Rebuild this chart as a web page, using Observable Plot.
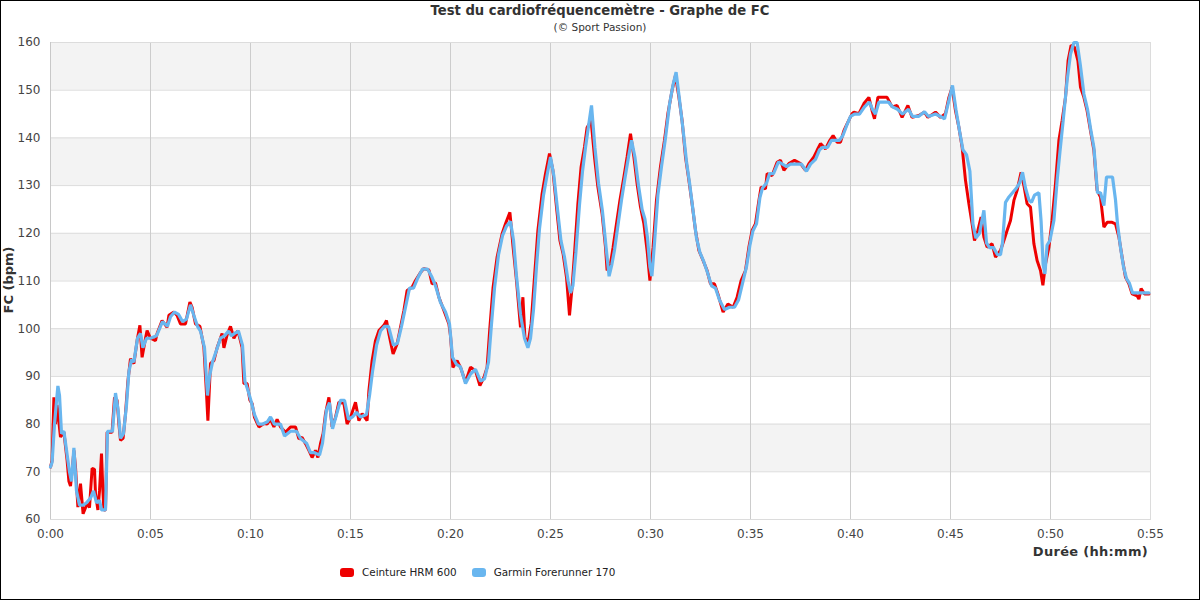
<!DOCTYPE html>
<html>
<head>
<meta charset="utf-8">
<script src="https://cdn.jsdelivr.net/npm/d3@7"></script>
<script src="https://cdn.jsdelivr.net/npm/@observablehq/plot@0.6"></script>
<style>
  html, body { margin: 0; padding: 0; background: #fff; }
  #wrap { position: relative; width: 1200px; height: 600px; font-family: "DejaVu Sans", sans-serif; overflow: hidden; }
  #border { position: absolute; left: 0; top: 0; width: 1200px; height: 600px; box-sizing: border-box; border: 1px solid #000; pointer-events: none; }
  .abs { position: absolute; white-space: nowrap; color: #333; }
  #title { left: 0; width: 1200px; top: 3px; text-align: center; font-weight: bold; font-size: 13.2px; }
  #subtitle { left: 0; width: 1200px; top: 21px; text-align: center; font-size: 10.5px; }
  #ylabel { left: 8px; top: 280px; font-weight: bold; font-size: 13px; transform: translate(-50%, -50%) rotate(-90deg); transform-origin: center; }
  #xlabel { right: 52px; top: 544px; font-weight: bold; font-size: 13px; letter-spacing: 0.3px; }
  #legend { left: 340px; top: 565px; height: 14px; font-size: 10.4px; display: flex; align-items: center; color: #222; }
  .sw { display: inline-block; width: 14px; height: 9px; border-radius: 3px; margin-right: 8px; }
  .item { display: inline-flex; align-items: center; margin-right: 15px; }
</style>
</head>
<body>
<div id="wrap">
  <div id="chart"></div>
  <div class="abs" id="title">Test du cardiofréquencemètre - Graphe de FC</div>
  <div class="abs" id="subtitle">(© Sport Passion)</div>
  <div class="abs" id="ylabel">FC (bpm)</div>
  <div class="abs" id="xlabel">Durée (hh:mm)</div>
  <div class="abs" id="legend"></div>
  <div id="border"></div>
</div>
<script>
// Series names and colours
const seriesNames = ["Ceinture HRM 600", "Garmin Forerunner 170"];
const seriesColors = ["#ee0000", "#69b6ef"];

// Tick values
const xTicks = [0, 5, 10, 15, 20, 25, 30, 35, 40, 45, 50, 55];
const yTicks = [60, 70, 80, 90, 100, 110, 120, 130, 140, 150, 160];
const bandStarts = [70, 90, 110, 130, 150];

// Ceinture HRM 600 : [minutes, bpm]
const hrm = [
[0,71],[0.08,72.4],[0.17,85.6],[0.25,80],[0.33,84],[0.5,77.3],[0.67,78.3],[0.83,72.4],[0.92,68],[1.0,67],[1.1,71],[1.17,74.5],[1.25,71],[1.37,62.6],[1.5,67.5],[1.63,61.2],[1.83,63.3],[1.95,62.5],[2.08,70.7],[2.2,70.5],[2.25,65.4],[2.37,62],[2.45,66],[2.55,73.8],[2.62,66],[2.67,62],[2.75,62],[2.83,78.3],[3.08,78.3],[3.2,85.6],[3.33,85],[3.42,80],[3.5,76.6],[3.63,77],[3.75,82.2],[3.87,89],[4.0,93.7],[4.17,92.7],[4.33,97.5],[4.47,100.7],[4.58,94],[4.75,98],[4.83,99.6],[5.0,98],[5.25,97.5],[5.33,99],[5.58,101.7],[5.83,100.3],[5.92,102.8],[6.17,103.5],[6.33,102.8],[6.5,101],[6.75,101],[6.97,105.6],[7.08,104.5],[7.25,101],[7.47,100.5],[7.67,96.1],[7.8,86.4],[7.87,80.7],[8.0,92.7],[8.17,93.3],[8.33,96],[8.58,99],[8.67,96],[8.83,98.7],[9.0,100.5],[9.17,98],[9.37,99.6],[9.58,96.1],[9.67,88.5],[9.83,88.5],[9.97,85],[10.08,84.3],[10.2,81.4],[10.42,79.4],[10.67,80.1],[10.83,80],[11.0,81],[11.17,79.4],[11.33,81],[11.5,79.4],[11.75,78.3],[12.0,79.4],[12.25,79.4],[12.42,76.9],[12.58,77.2],[12.75,75.9],[12.92,74.5],[13.08,73],[13.25,74.5],[13.37,73],[13.5,75.9],[13.63,78],[13.75,82.2],[13.92,85.6],[14.08,79.4],[14.25,81.4],[14.42,84.6],[14.67,84.3],[14.83,80],[15.0,81.4],[15.25,84.6],[15.42,80.7],[15.58,82.2],[15.83,80.7],[15.92,87],[16.08,93.3],[16.25,97.5],[16.42,99.6],[16.67,100.7],[16.8,101.7],[16.92,98.9],[17.13,94.7],[17.33,96.8],[17.5,100.3],[17.67,103.8],[17.83,108],[18.08,108.7],[18.25,110.1],[18.5,111.8],[18.67,112.6],[18.92,112.3],[19.08,109.4],[19.25,109.6],[19.42,106.6],[19.67,103.8],[19.92,101],[20.0,98.5],[20.12,91.9],[20.33,93.3],[20.5,91.9],[20.75,88.8],[21.0,91.9],[21.25,91.2],[21.47,88.1],[21.67,89.8],[21.83,91.9],[21.97,100.3],[22.13,108.7],[22.33,115],[22.58,119.9],[22.75,122],[22.97,124.4],[23.13,117.1],[23.3,110.1],[23.5,100.3],[23.62,106.6],[23.72,98.2],[23.87,96.8],[24.03,101],[24.2,110.8],[24.37,120.6],[24.58,128.3],[24.75,132.5],[24.95,136.7],[25.12,133.2],[25.3,125.5],[25.47,118.5],[25.63,115.7],[25.8,110.8],[25.95,102.8],[26.08,108.7],[26.2,115.7],[26.37,126.2],[26.53,133.9],[26.7,138.1],[26.83,142.2],[27.03,143.6],[27.2,136],[27.37,129.7],[27.58,124.1],[27.75,117.1],[27.83,112.2],[28.0,113.6],[28.13,117.1],[28.3,122],[28.47,126.9],[28.67,131.8],[28.83,136],[29.0,140.9],[29.17,136],[29.33,130.4],[29.5,125.5],[29.67,122],[29.83,116.4],[29.97,110.1],[30.13,117.1],[30.3,127],[30.5,134],[30.7,139.5],[30.87,145.1],[31.08,150],[31.25,153.1],[31.42,148.5],[31.58,143.6],[31.75,136],[31.92,131.1],[32.08,126.2],[32.25,120.6],[32.42,116.4],[32.63,114.3],[32.83,112.2],[33.0,109.4],[33.2,109.4],[33.37,107.3],[33.63,103.5],[33.87,105.2],[34.13,104.5],[34.33,106.6],[34.53,110.1],[34.75,112.2],[34.92,117.1],[35.08,120.6],[35.25,122],[35.42,126.9],[35.53,129.7],[35.75,129.3],[35.83,132.5],[36.08,132.1],[36.33,134.9],[36.5,135.3],[36.67,133.2],[36.92,134.6],[37.2,135.3],[37.5,134.6],[37.75,133.2],[37.92,134.6],[38.17,136],[38.33,137.4],[38.5,138.8],[38.75,137.7],[38.97,139.5],[39.13,140.5],[39.33,139.1],[39.5,139.1],[39.67,141.5],[39.87,143.3],[40.08,145.1],[40.17,145.4],[40.42,145.1],[40.67,147.2],[40.92,148.5],[41.08,145.7],[41.2,144],[41.37,148.5],[41.58,148.5],[41.83,148.5],[42.08,146.5],[42.33,146.8],[42.58,144.3],[42.87,146.8],[43.08,144.3],[43.42,144.7],[43.7,145.4],[43.87,144.3],[44.25,145.4],[44.5,144.3],[44.75,145.1],[44.92,148.5],[45.08,150.6],[45.25,145.7],[45.42,142.2],[45.58,138.1],[45.75,131.1],[45.92,126.2],[46.08,122],[46.2,118.5],[46.37,120.6],[46.53,123.4],[46.67,119.2],[46.83,117.1],[47.08,117.8],[47.25,115],[47.5,116.4],[47.67,118.5],[47.83,120.6],[48.0,122.7],[48.17,126.9],[48.33,129],[48.53,132.8],[48.67,130],[48.83,126.2],[49.0,125.5],[49.17,117.8],[49.33,114.3],[49.5,112.2],[49.62,109.1],[49.75,113.6],[49.92,117.1],[50.08,122.7],[50.25,130.4],[50.42,139.5],[50.58,143.6],[50.75,148.5],[50.88,156.2],[51.03,159.4],[51.2,159],[51.37,156.2],[51.5,150.6],[51.67,148.5],[51.83,145.7],[52.0,141.5],[52.17,137.4],[52.33,129],[52.5,127.6],[52.67,121.3],[52.83,122.3],[53.08,122.3],[53.25,122],[53.42,119.2],[53.58,115],[53.75,110.8],[53.92,109.4],[54.08,107.3],[54.33,106.9],[54.42,106.2],[54.53,108.4],[54.7,107.3],[54.92,107.3]
];

// Garmin Forerunner 170 : [minutes, bpm]
const garmin = [
[0,71],[0.08,72],[0.2,80],[0.37,88],[0.45,86],[0.55,78],[0.67,78.5],[0.85,73],[0.95,70],[1.05,68],[1.17,75],[1.3,66],[1.45,63],[1.63,63],[1.8,63.5],[2.0,64.5],[2.15,66],[2.3,63.5],[2.45,64],[2.55,62],[2.75,62],[2.85,78.5],[3.1,78.5],[3.25,86.5],[3.38,83],[3.5,77],[3.65,78],[3.8,84],[3.92,91],[4.05,93.5],[4.17,93],[4.35,98],[4.5,99],[4.62,96],[4.8,98],[5.0,98],[5.3,98.5],[5.6,101.5],[5.85,100.5],[6.0,102.5],[6.2,103.5],[6.4,103],[6.6,101.5],[6.8,102],[7.0,105],[7.15,103],[7.35,100.5],[7.5,99.5],[7.7,96],[7.85,86],[7.95,90],[8.1,93],[8.3,95.5],[8.5,98],[8.7,98.5],[8.9,99.5],[9.05,98.5],[9.2,99],[9.4,99.5],[9.6,96.5],[9.72,89],[9.88,87],[10.05,84.5],[10.2,82],[10.4,80],[10.6,80],[10.85,80.5],[11.0,81.5],[11.2,80],[11.5,80],[11.7,77.5],[12.0,78.5],[12.3,78.5],[12.5,77],[12.8,76],[13.0,74],[13.2,74],[13.45,73.5],[13.6,76],[13.8,83],[13.95,84.5],[14.1,79],[14.3,82],[14.5,85],[14.7,85],[14.9,81],[15.1,81.5],[15.3,82.5],[15.5,81.5],[15.8,82],[15.95,86],[16.1,91],[16.3,96.5],[16.5,99.5],[16.7,100.5],[16.9,100.5],[17.15,96.5],[17.35,97],[17.55,100.5],[17.75,104.5],[17.95,108.5],[18.15,108.5],[18.35,110.5],[18.6,112.5],[18.85,112.5],[19.05,111],[19.25,109],[19.5,105.5],[19.75,103.5],[19.95,101],[20.1,94],[20.3,92.5],[20.5,92],[20.75,88.5],[21.0,90.5],[21.25,91.5],[21.5,89],[21.7,89.5],[21.9,93],[22.05,101],[22.2,108.5],[22.4,115.5],[22.6,119.5],[22.8,121.5],[23.0,122.5],[23.15,118.5],[23.3,111],[23.5,103],[23.7,98],[23.87,96],[24.0,98],[24.15,104],[24.3,113],[24.45,121],[24.65,128],[24.82,132],[25.0,136],[25.17,132],[25.35,125],[25.52,118.5],[25.7,115],[25.88,110],[26.0,107.5],[26.12,109],[26.27,116],[26.45,126],[26.6,133],[26.75,138],[26.92,143],[27.05,146.8],[27.22,138],[27.4,130.5],[27.6,124.5],[27.78,117],[27.93,111],[28.07,113.5],[28.2,116.5],[28.35,121],[28.55,127],[28.72,131.5],[28.9,136],[29.05,139.5],[29.22,136],[29.4,130],[29.58,125],[29.72,123],[29.85,119],[29.97,113],[30.07,111],[30.2,118],[30.37,128],[30.55,134],[30.75,140],[30.95,147],[31.12,151],[31.28,153.8],[31.45,148],[31.62,142],[31.8,135],[31.97,130],[32.12,125],[32.3,119],[32.47,116],[32.67,114],[32.87,111.5],[33.05,109],[33.25,108.5],[33.45,106],[33.7,104],[33.95,104.5],[34.2,104.5],[34.4,106],[34.6,109.5],[34.8,113],[34.97,117.5],[35.12,120.5],[35.3,122],[35.47,127.5],[35.6,129.5],[35.8,130.5],[35.95,132.5],[36.15,132.5],[36.4,135],[36.6,134.5],[36.8,134],[37.0,134.5],[37.3,134.5],[37.55,134.5],[37.8,133],[38.0,134.5],[38.25,135.5],[38.45,137.5],[38.6,138],[38.85,138],[39.05,139.5],[39.25,139.5],[39.45,139.5],[39.62,140.5],[39.8,142.5],[40.0,144.5],[40.2,145],[40.45,145],[40.7,146.5],[40.95,147.5],[41.1,146],[41.25,145],[41.42,147.5],[41.65,147.5],[41.9,147.5],[42.1,146.5],[42.35,146],[42.6,145],[42.9,146],[43.1,144.5],[43.4,144.5],[43.7,145.5],[43.9,144.5],[44.25,145],[44.5,144.5],[44.7,144],[44.9,147.5],[45.1,151],[45.27,146],[45.45,141.5],[45.62,137.5],[45.8,136.5],[45.97,133],[46.12,122],[46.27,119],[46.45,120],[46.67,124.8],[46.8,118],[46.95,117],[47.15,117],[47.35,115.5],[47.5,115.5],[47.6,118],[47.75,126.5],[47.9,127.5],[48.1,128.5],[48.3,129.5],[48.45,130.5],[48.6,132.8],[48.75,129.5],[48.92,127],[49.05,126.5],[49.2,128],[49.42,128.5],[49.53,122.5],[49.63,113.5],[49.72,111.5],[49.83,117.5],[49.97,118.5],[50.17,122.7],[50.33,131],[50.47,137],[50.63,143.5],[50.83,152],[51.0,157.6],[51.17,160],[51.33,160],[51.5,155],[51.67,149.2],[51.85,146],[52.0,142],[52.17,138],[52.35,128.5],[52.5,128.5],[52.67,125.8],[52.8,131.8],[53.1,131.8],[53.25,127],[53.35,122],[53.5,117],[53.65,113],[53.8,110.5],[53.95,109.5],[54.1,107.5],[54.3,107.5],[54.5,107.5],[54.7,107.5],[54.92,107.5]
];

const fmt = d => `0:${String(d).padStart(2, "0")}`;

const chart = Plot.plot({
  width: 1200,
  height: 600,
  marginTop: 42,
  marginBottom: 81,
  marginLeft: 50,
  marginRight: 50,
  style: { fontFamily: "DejaVu Sans, sans-serif", fontSize: "12px", color: "#444", background: "transparent" },
  x: { domain: [0, 55], label: null },
  y: { domain: [60, 160], label: null },
  marks: [
    Plot.rect(bandStarts, { x1: 0, x2: 55, y1: d => d, y2: d => d + 10, fill: "#f3f3f3" }),
    Plot.gridY(yTicks, { stroke: "#dcdcdc", strokeOpacity: 1 }),
    Plot.gridX(xTicks, { stroke: "#cccccc", strokeOpacity: 1 }),
    Plot.frame({ stroke: "#dcdcdc" }),
    Plot.ruleX([0], { stroke: "#c8c8c8" }),
    Plot.axisX(xTicks, { tickSize: 0, tickPadding: 10, tickFormat: fmt, fill: "#444", fontSize: 12 }),
    Plot.axisY(yTicks, { tickSize: 0, tickPadding: 10, fill: "#444", fontSize: 12 }),
    Plot.line(hrm, { x: d => d[0], y: d => d[1], stroke: seriesColors[0], strokeWidth: 3, strokeLinejoin: "miter" }),
    Plot.line(garmin, { x: d => d[0], y: d => d[1], stroke: seriesColors[1], strokeWidth: 3.2, strokeLinejoin: "miter" })
  ]
});
document.getElementById("chart").appendChild(chart);

const legend = document.getElementById("legend");
seriesNames.forEach((name, i) => {
  const item = document.createElement("span");
  item.className = "item";
  const sw = document.createElement("span");
  sw.className = "sw";
  sw.style.background = seriesColors[i];
  item.appendChild(sw);
  item.appendChild(document.createTextNode(name));
  legend.appendChild(item);
});
</script>
</body>
</html>
